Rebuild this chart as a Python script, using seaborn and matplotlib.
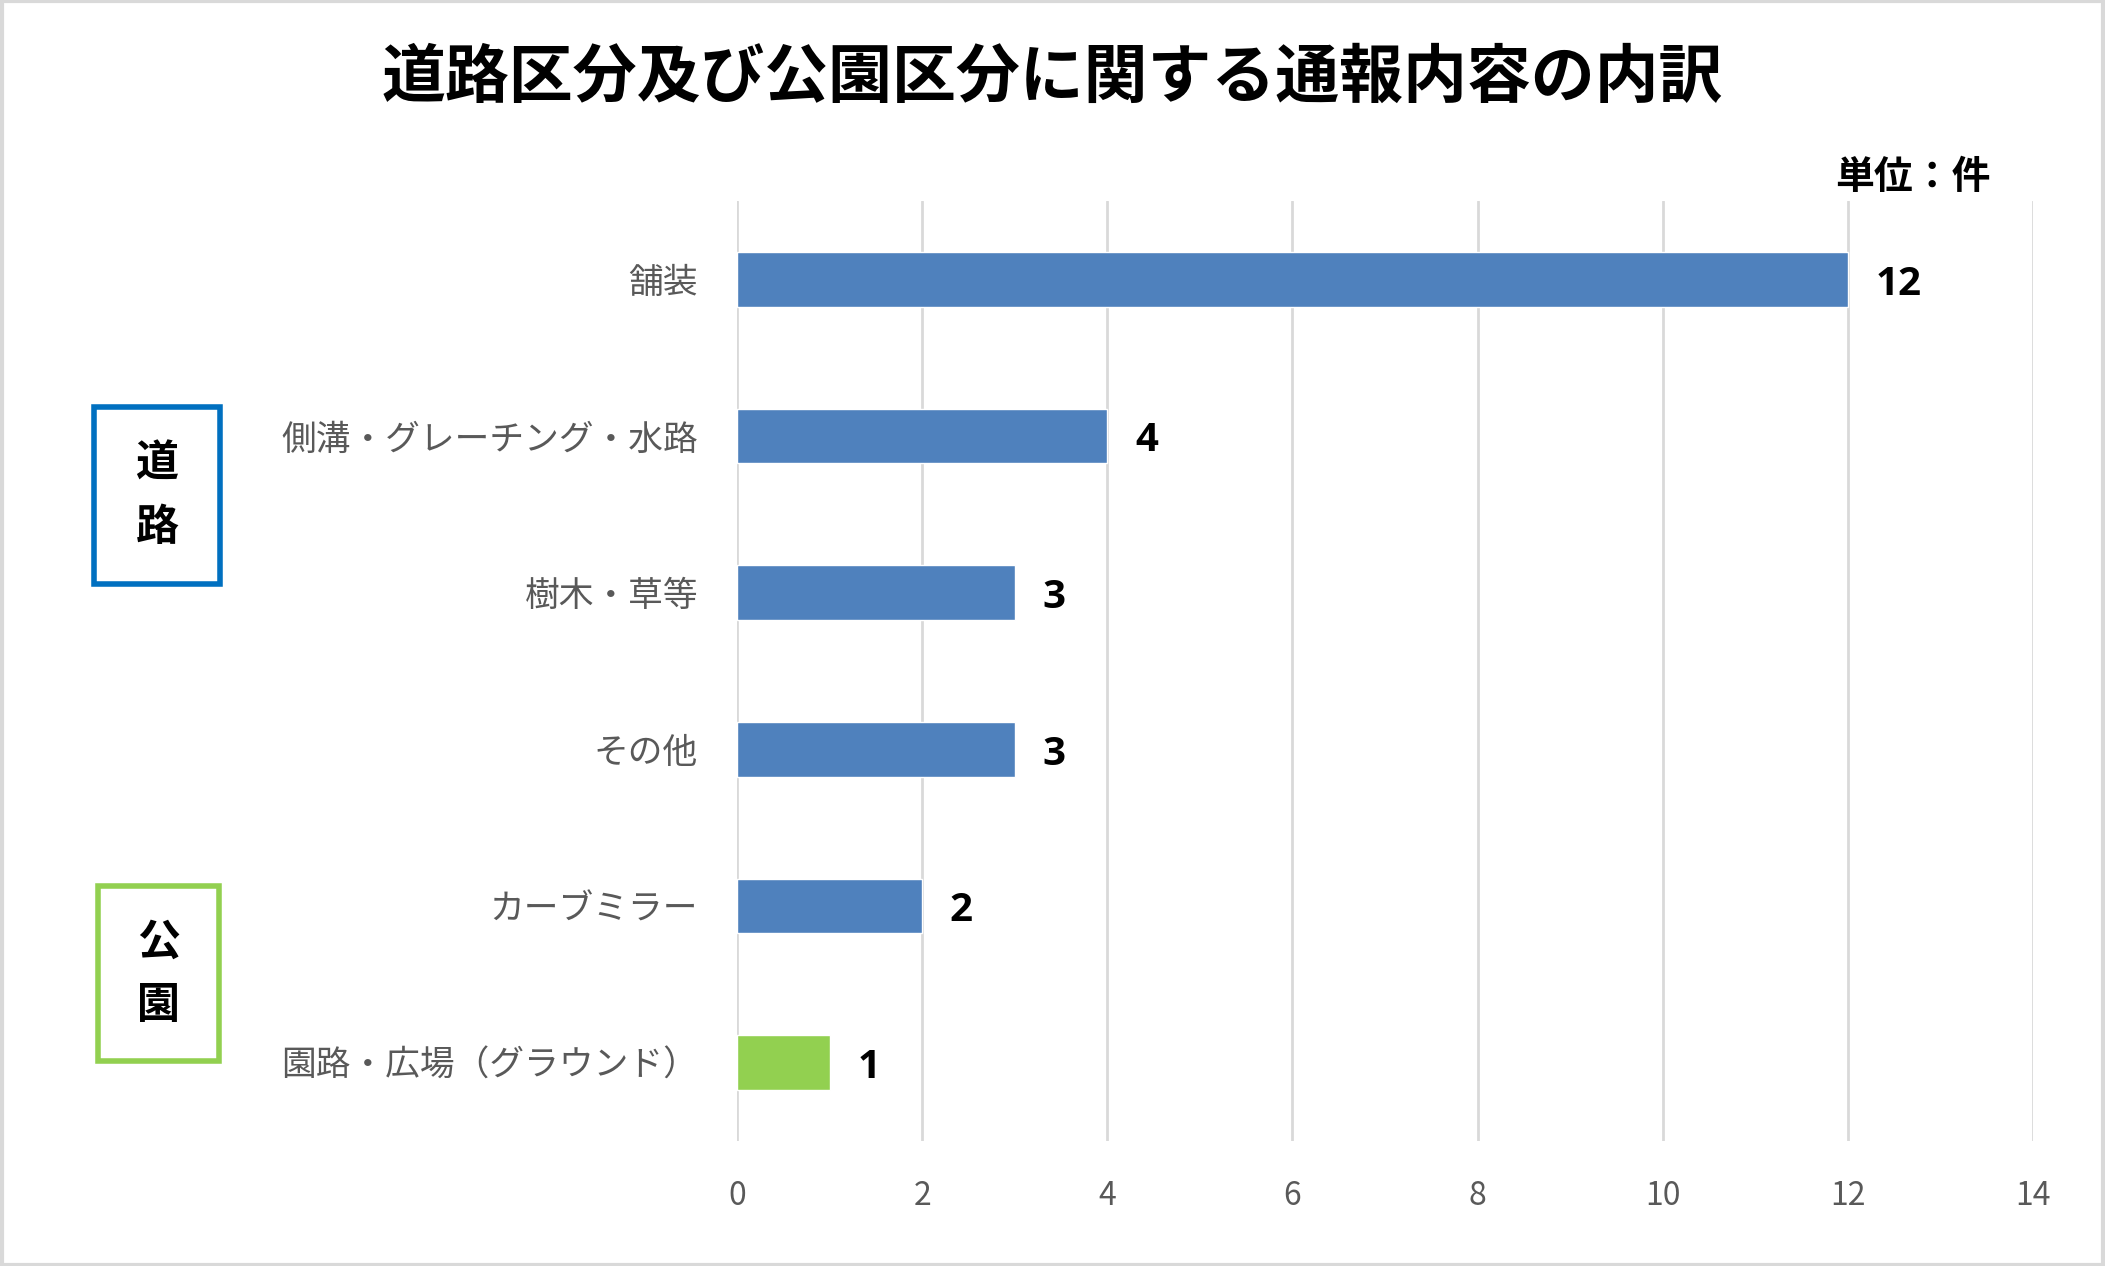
import numpy as np
import pandas as pd
import matplotlib
matplotlib.use("Agg")
import matplotlib.pyplot as plt
from matplotlib.patches import Rectangle
import seaborn as sns

sns.set_theme(style="white")
plt.rcParams["font.family"] = ["Noto Sans CJK JP", "DejaVu Sans"]

# data
categories = ["舗装", "側溝・グレーチング・水路", "樹木・草等", "その他", "カーブミラー", "園路・広場（グラウンド）"]
counts = [12, 4, 3, 3, 2, 1]
groups = ["道路", "道路", "道路", "道路", "道路", "公園"]
xticks = [0, 2, 4, 6, 8, 10, 12, 14]

df = pd.DataFrame({"category": categories, "count": counts, "group": groups})
palette = {"道路": "#4F81BD", "公園": "#92D050"}

W, H = 2105, 1266
fig = plt.figure(figsize=(W / 100, H / 100), dpi=100)
ax = fig.add_axes([737 / W, (H - 1141) / H, (2033 - 737) / W, (1141 - 201) / H])

sns.barplot(data=df, y="category", x="count", hue="group", palette=palette,
            orient="h", width=0.35, dodge=False, legend=False, saturation=1, ax=ax)

ax.set_xlim(0, 14)
ax.set_ylim(5.5, -0.5)
ax.set_xticks(xticks)
ax.set_xticklabels([str(t) for t in xticks])
ax.xaxis.grid(True, color="#D9D9D9", linewidth=2)
ax.set_axisbelow(True)
for s in ax.spines.values():
    s.set_visible(False)
ax.tick_params(axis="x", colors="#595959", labelsize=23, pad=28, length=0)
ax.tick_params(axis="y", colors="#595959", labelsize=25, pad=28, length=0)
ax.set_xlabel("")
ax.set_ylabel("")

for i, v in enumerate(counts):
    ax.text(v + 0.3, i + 0.03, str(v), va="center", ha="left", fontsize=29,
            fontweight="bold", color="black", family=["Open Sans", "DejaVu Sans"])

fig.text(0.5, (H - 78) / H, "道路区分及び公園区分に関する通報内容の内訳",
         ha="center", va="center", fontsize=46, fontweight="bold", color="black")
fig.text(1913 / W, (H - 178) / H, "単位：件", ha="center", va="center",
         fontsize=28, fontweight="bold", color="black")

# group boxes
for (x0, y0, x1, y1, col, txt) in [(94, 407, 220, 584, "#0070C0", "道\n路"),
                                    (98, 886, 219, 1061, "#92D050", "公\n園")]:
    fig.patches.append(Rectangle((x0 / W, (H - y1) / H), (x1 - x0) / W, (y1 - y0) / H,
                                 transform=fig.transFigure, fill=False,
                                 edgecolor=col, linewidth=4))
    fig.text((x0 + x1) / 2 / W, (H - (y0 + y1) / 2) / H, txt, ha="center", va="center",
             fontsize=31, fontweight="bold", color="black", linespacing=1.55)

# outer border
fig.patches.append(Rectangle((0.001, 0.001), 0.998, 0.998, transform=fig.transFigure,
                             fill=False, edgecolor="#D9D9D9", linewidth=3))

fig.savefig("out.png", dpi=100, facecolor="white")
